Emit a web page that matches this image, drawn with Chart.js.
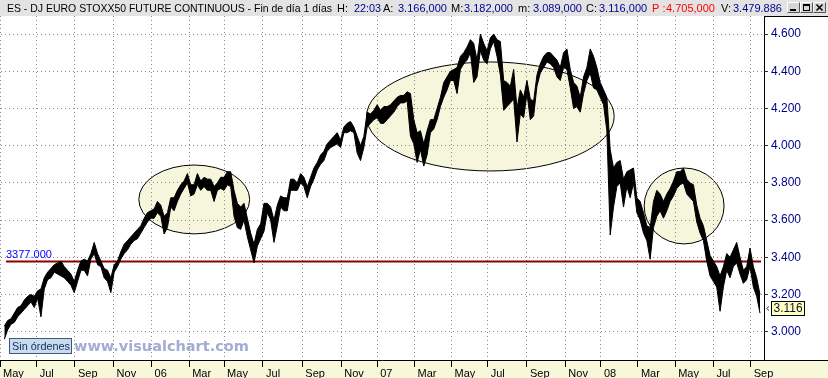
<!DOCTYPE html>
<html>
<head>
<meta charset="utf-8">
<script src="https://cdn.jsdelivr.net/npm/chart.js@4/dist/chart.umd.min.js"></script>
<style>
html,body{margin:0;padding:0;background:#fff;overflow:hidden}
#wrap{position:relative;width:828px;height:378px}
canvas{display:block}
</style>
</head>
<body>
<div id="wrap"><canvas id="c" width="828" height="378"></canvas></div>
<script>
// ---------------- DATA ----------------
// month labels and the bar number at which each month starts
const monthLabels = ['May','Jul','Sep','Nov','06','Mar','May','Jul','Sep','Nov','07','Mar','May','Jul','Sep','Nov','08','Mar','May','Jul','Sep'];
const monthBars   = [-0.3,10.7,22.2,33.8,45.2,56.5,67,78.7,90.5,102.2,113,124.2,135.3,146.2,158,169.5,180.2,191.3,202.5,214,225.2];

// price bars (each bar ~ 4 sessions), low and high, index points
const barLow = [
2960,3010,3040,3050,3080,3100,3120,3140,3160,3130,3180,3080,3230,3280,3290,3320,3310,3300,3290,3270,
3250,3210,3270,3330,3330,3300,3390,3420,3360,3350,3290,3270,3210,3320,3350,3390,3420,3440,3470,3490,
3500,3530,3560,3590,3610,3610,3640,3620,3525,3560,3670,3650,3700,3740,3770,3800,3730,3740,3790,3760,
3780,3760,3760,3700,3760,3770,3760,3790,3780,3620,3560,3550,3600,3510,3440,3370,3460,3500,3540,3640,
3600,3480,3570,3670,3650,3650,3760,3760,3760,3800,3780,3720,3780,3820,3870,3900,3920,3970,3990,4000,
4010,3990,4070,4070,4080,4070,3960,3920,3990,4100,4120,4140,4150,4120,4120,4140,4160,4180,4210,4230,
4230,4240,4050,4010,3910,3980,3890,3950,4070,4090,4140,4210,4260,4300,4350,4350,4280,4410,4440,4460,
4500,4340,4370,4510,4460,4440,4520,4560,4480,4380,4190,4210,4230,4250,4020,4170,4150,4280,4140,4160,
4320,4390,4420,4450,4440,4420,4370,4350,4420,4410,4310,4200,4210,4180,4280,4350,4390,4310,4300,4260,
4220,4080,3520,3670,3780,3800,3670,3780,3720,3800,3640,3600,3530,3490,3390,3560,3620,3650,3610,3650,
3700,3730,3770,3790,3800,3740,3720,3700,3590,3530,3490,3380,3300,3270,3240,3110,3240,3330,3290,3350,
3370,3310,3260,3280,3350,3240,3190,3100];
const barHigh = [
3030,3060,3070,3100,3130,3140,3170,3190,3200,3190,3220,3230,3290,3320,3340,3360,3370,3380,3350,3330,
3310,3270,3330,3380,3390,3380,3420,3480,3420,3380,3340,3330,3290,3360,3380,3430,3470,3490,3510,3530,
3550,3570,3610,3640,3650,3660,3700,3680,3620,3640,3720,3720,3760,3790,3810,3850,3790,3790,3850,3810,
3830,3820,3820,3780,3800,3830,3830,3860,3860,3760,3690,3670,3690,3610,3530,3470,3550,3580,3690,3690,
3670,3600,3680,3730,3720,3720,3820,3820,3800,3850,3830,3780,3830,3880,3910,3950,3970,4010,4030,4050,
4070,4030,4100,4120,4130,4100,4050,4000,4050,4180,4170,4190,4220,4190,4210,4210,4220,4240,4260,4270,
4270,4290,4280,4140,4070,4080,4010,4080,4140,4140,4200,4260,4340,4370,4400,4410,4420,4480,4500,4530,
4570,4550,4460,4600,4550,4510,4580,4600,4570,4560,4350,4340,4320,4410,4200,4300,4260,4350,4250,4240,
4380,4440,4480,4500,4500,4480,4460,4420,4500,4520,4410,4340,4320,4260,4370,4420,4520,4480,4420,4340,
4300,4260,3980,3880,3910,3920,3820,3860,3870,3880,3720,3700,3640,3570,3560,3700,3760,3740,3700,3740,
3770,3810,3860,3860,3880,3820,3800,3790,3680,3610,3570,3490,3410,3380,3350,3300,3350,3420,3400,3440,
3480,3400,3330,3350,3450,3350,3290,3200];

const yTickValues = [3000,3200,3400,3600,3800,4000,4200,4400,4600];
const supportLevel = 3377;
const lastClose = 3116;

// header statistics
const statNames  = ['H:','A:','M:','m:','C:','P :','V:'];
const statValues = ['22:03','3.166,000','3.182,000','3.089,000','3.116,000','4.705,000','3.479.886'];
const chartTitle = 'ES - DJ EURO STOXX50 FUTURE CONTINUOUS - Fin de día 1 días';

// highlighted zones: centre bar, centre price, half-width (bars), half-height (points)
const zoneCenterBar   = [58.05, 147, 205.2];
const zoneCenterPrice = [3711, 4157, 3676];
const zoneHalfBars    = [16.65, 37.2, 12];
const zoneHalfPoints  = [185, 293, 204];

// ---------------- HELPERS ----------------
function fmtThousands(v){
  const s = String(Math.round(v));
  return s.replace(/\B(?=(\d{3})+(?!\d))/g,'.');
}
const NAVY = '#00008B';
const headerLayout = [ // x, maxWidth for each stat name / value
  [337,12,354,27],[383,13,398,50],[451,13,464,53],[518,13,533,51],[586,12,599,51],[652,14,666,50],[721,12,733,50]
];

const decor = {
  id:'decor',
  beforeDraw(chart){
    const ctx = chart.ctx, a = chart.chartArea, xs = chart.scales.x, ys = chart.scales.y;
    ctx.save();
    ctx.fillStyle = '#ffffff'; ctx.fillRect(0,0,828,378);
    ctx.fillStyle = '#e3e3e3'; ctx.fillRect(0,0,828,16);
    ctx.fillStyle = '#f7f7da'; ctx.fillRect(0,a.bottom,828,378-a.bottom);
    ctx.beginPath(); ctx.rect(a.left,a.top,a.right-a.left,a.bottom-a.top); ctx.clip();
    for (let i=0;i<zoneCenterBar.length;i++){
      const cx = xs.getPixelForValue(zoneCenterBar[i]);
      const cy = ys.getPixelForValue(zoneCenterPrice[i]);
      const rx = Math.abs(xs.getPixelForValue(zoneCenterBar[i]+zoneHalfBars[i]) - cx);
      const ry = Math.abs(ys.getPixelForValue(zoneCenterPrice[i]+zoneHalfPoints[i]) - cy);
      ctx.beginPath(); ctx.ellipse(cx,cy,rx,ry,0,0,Math.PI*2);
      ctx.fillStyle = '#f6f6dc'; ctx.fill();
      ctx.strokeStyle = '#000'; ctx.lineWidth = 1; ctx.stroke();
    }
    ctx.restore();
  },
  afterDraw(chart){
    const ctx = chart.ctx, a = chart.chartArea, xs = chart.scales.x, ys = chart.scales.y;
    ctx.save();
    ctx.strokeStyle = '#000'; ctx.lineWidth = 1;
    ctx.beginPath(); ctx.moveTo(a.right, 16.5); ctx.lineTo(828, 16.5); ctx.stroke();
    ctx.beginPath(); ctx.moveTo(a.right, a.bottom+0.5); ctx.lineTo(828, a.bottom+0.5); ctx.stroke();
    // header text
    ctx.textBaseline = 'alphabetic';
    ctx.font = '11px "Liberation Sans", Arial, sans-serif';
    ctx.fillStyle = '#000';
    ctx.fillText(chartTitle, 7, 12, 325);
    for (let i=0;i<statNames.length;i++){
      const L = headerLayout[i];
      const red = statNames[i] === 'P :';
      ctx.fillStyle = red ? '#ff0000' : '#000';
      ctx.fillText(statNames[i], L[0], 12, L[1]);
      ctx.fillStyle = red ? '#ff0000' : NAVY;
      ctx.fillText(statValues[i], L[2], 12, L[3]);
    }
    // window buttons
    const bx = [787,800,813];
    bx.forEach((x,i)=>{
      ctx.fillStyle = '#d6d6d6'; ctx.fillRect(x,2,13,11);
      ctx.strokeStyle = '#ffffff'; ctx.beginPath(); ctx.moveTo(x+0.5,12.5); ctx.lineTo(x+0.5,2.5); ctx.lineTo(x+12.5,2.5); ctx.stroke();
      ctx.strokeStyle = '#555'; ctx.beginPath(); ctx.moveTo(x+12.5,2.5); ctx.lineTo(x+12.5,12.5); ctx.lineTo(x+0.5,12.5); ctx.stroke();
      ctx.strokeStyle = '#000'; ctx.lineWidth = 1;
      if (i===0){ ctx.fillStyle='#000'; ctx.fillRect(x+3,9,6,2); }
      if (i===1){ ctx.strokeRect(x+3.5,4.5,6,6); ctx.fillStyle='#000'; ctx.fillRect(x+3,4,7,2); }
      if (i===2){ ctx.lineWidth=1.5; ctx.beginPath(); ctx.moveTo(x+3.5,4.5); ctx.lineTo(x+9.5,10.5); ctx.moveTo(x+9.5,4.5); ctx.lineTo(x+3.5,10.5); ctx.stroke(); ctx.lineWidth=1; }
    });
    // support label
    ctx.font = '11px "Liberation Sans", Arial, sans-serif';
    ctx.fillStyle = '#0000ff';
    ctx.fillText(supportLevel.toFixed(3), xs.getPixelForValue(1.5), ys.getPixelForValue(supportLevel) - 3.5);
    // last price box
    const yc = Math.round(ys.getPixelForValue(lastClose)) - 2;
    ctx.fillStyle = '#ffffc0'; ctx.fillRect(771.5, yc-6.5, 33, 14);
    ctx.strokeStyle = '#000'; ctx.strokeRect(771.5, yc-6.5, 33, 14);
    ctx.font = '12px "Liberation Sans", Arial, sans-serif';
    ctx.fillStyle = '#101030'; ctx.textBaseline = 'middle';
    ctx.fillText(fmtThousands(lastClose), 773.5, yc+1);
    ctx.strokeStyle = '#444'; ctx.beginPath(); ctx.moveTo(769,yc-1.5); ctx.lineTo(766.5,yc+0.5); ctx.lineTo(769,yc+2.5); ctx.stroke();
    // Sin órdenes box
    ctx.fillStyle = '#c7dcef'; ctx.fillRect(9.5,338.5,62,15);
    ctx.strokeStyle = '#3c5a78'; ctx.strokeRect(9.5,338.5,62,15);
    ctx.font = '11px "Liberation Sans", Arial, sans-serif';
    ctx.fillStyle = '#1a2a5a'; ctx.textBaseline = 'alphabetic';
    ctx.fillText('Sin órdenes', 12, 350, 58);
    // watermark
    ctx.font = 'bold 14.5px "DejaVu Sans", Verdana, sans-serif';
    ctx.fillStyle = '#a3acd3';
    ctx.fillText('www.visualchart.com', 74, 351);
    ctx.restore();
  }
};

const toPts = arr => arr.map((v,i)=>({x:i+1, y:v}));

new Chart(document.getElementById('c'), {
  type:'line',
  data:{
    datasets:[
      {label:'low', data:toPts(barLow), borderColor:'#000', borderWidth:1, pointRadius:0, fill:false, tension:0, order:1},
      {label:'high', data:toPts(barHigh), borderColor:'#000', backgroundColor:'#000', borderWidth:1, pointRadius:0, fill:'-1', tension:0, order:1},
      {label:'support', data:[{x:1.5,y:supportLevel},{x:228.3,y:supportLevel}], borderColor:'#8b0000', borderWidth:2, pointRadius:0, fill:false, order:3}
    ]
  },
  options:{
    responsive:false, animation:false, devicePixelRatio:1,
    layout:{padding:{top:16,left:0,right:0,bottom:0}, autoPadding:false},
    plugins:{legend:{display:false}, tooltip:{enabled:false}},
    scales:{
      x:{
        type:'linear', min:0, max:229.2,
        afterBuildTicks:s=>{ s.ticks = monthBars.map(v=>({value:v})); },
        afterFit:s=>{ s.height = 18; },
        ticks:{autoSkip:false, maxRotation:0, minRotation:0, align:'start', padding:0, color:'#000',
               font:{family:'"Liberation Sans", Arial, sans-serif', size:11},
               callback:(v,i)=>' '+monthLabels[i]},
        grid:{color:'#8a8a8a', lineWidth:1, tickLength:7, tickColor:'#000', tickWidth:1, drawTicks:true},
        border:{display:true, color:'#000', width:1, dash:[1,3]}
      },
      y:{
        type:'linear', position:'right', min:2848, max:4697,
        afterBuildTicks:s=>{ s.ticks = yTickValues.map(v=>({value:v})); },
        afterFit:s=>{ s.width = 64; },
        ticks:{color:NAVY, padding:3, font:{family:'"Liberation Sans", Arial, sans-serif', size:12},
               callback:v=>fmtThousands(v)},
        grid:{color:'#8a8a8a', lineWidth:1, tickLength:4, tickColor:'#333', tickWidth:1},
        border:{display:true, color:'#000', width:1, dash:[1,3]}
      }
    }
  },
  plugins:[decor]
});
</script>
</body>
</html>
